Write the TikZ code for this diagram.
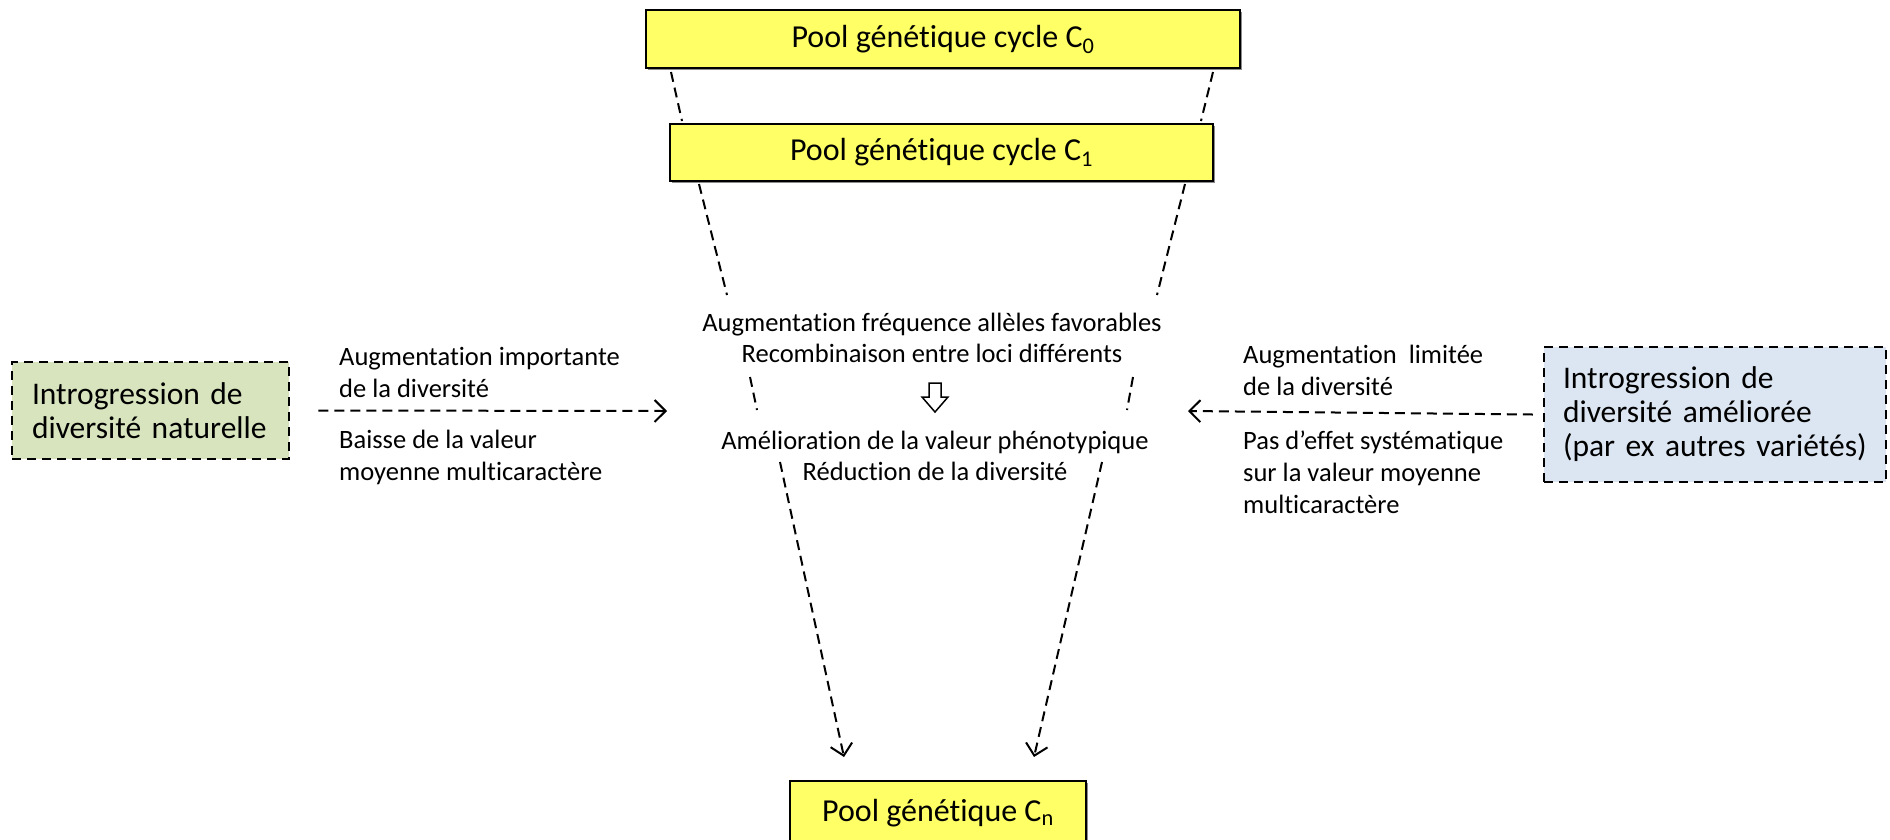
\documentclass[tikz,border=0pt]{standalone}
\usepackage{fontspec}
\setmainfont{Carlito}[RawFeature=-liga]
\usetikzlibrary{arrows.meta,shadows}
\definecolor{boxyellow}{RGB}{255,255,102}
\definecolor{boxgreen}{RGB}{215,228,189}
\definecolor{boxblue}{RGB}{220,230,242}
\begin{document}
\begin{tikzpicture}[x=1pt,y=-1pt,
  pool/.style={draw=black,line width=2pt,fill=boxyellow,inner sep=0pt,
    font=\fontsize{32}{34}\selectfont,
    drop shadow={shadow xshift=2pt,shadow yshift=-2pt,fill=black!45,opacity=1}},
  intro/.style={draw=black,line width=2.5pt,dash pattern=on 9pt off 6pt,
    inner ysep=0pt,align=left,font=\fontsize{31.5}{34}\selectfont},
  small/.style={font=\fontsize{26.5}{32}\selectfont,inner sep=0pt,align=left,anchor=west},
  ctext/.style={font=\fontsize{26.5}{31.5}\selectfont,inner sep=0pt,align=center},
  funnel/.style={line width=2pt,dash pattern=on 10pt off 6pt},
  darrow/.style={funnel,-{Straight Barb[length=11pt,width=22pt,line width=2pt]}}]
\useasboundingbox (0,0) rectangle (1890,839);

% pool boxes
\node[pool,minimum width=594pt,minimum height=58pt] (c0) at (943,39) {Pool génétique cycle C\textsubscript{0}};
\node[pool,minimum width=543pt,minimum height=57pt] (c1) at (941.5,152.5) {Pool génétique cycle C\textsubscript{1}};
\node[pool,minimum width=296pt,minimum height=64pt] (cn) at (938,813) {Pool génétique C\textsubscript{n}};

% introgression boxes
\node[intro,fill=boxgreen,text width=237pt,inner xsep=20pt,minimum height=97pt] (lbox) at (150.5,410.5)
  {Introgression de\\diversité naturelle};
\node[intro,fill=boxblue,text width=304pt,inner xsep=19pt,minimum height=135pt] (rbox) at (1715,414.5)
  {Introgression de\\diversité améliorée\\(par ex autres variétés)};

% side texts
\node[small] (lt1) at (339,372) {Augmentation importante\\de la diversité};
\node[small] (lt2) at (339,457) {Baisse de la valeur\\moyenne multicaractère};
\node[small] (rt1) at (1243,370) {Augmentation~~limitée\\de la diversité};
\node[small] (rt2) at (1243,472) {Pas d’effet systématique\\sur la valeur moyenne\\multicaractère};

% center texts
\node[ctext] (ct1) at (932,338) {Augmentation fréquence allèles favorables\\Recombinaison entre loci différents};
\node[ctext] (ct2) at (935,456) {Amélioration de la valeur phénotypique\\Réduction de la diversité};

% funnel coordinates
\coordinate (a1) at (671,72);   \coordinate (a2) at (682,121);
\coordinate (b1) at (1213,72);  \coordinate (b2) at (1201,121);
\coordinate (d1) at (699,184);  \coordinate (d2) at (727,295);
\coordinate (e1) at (1185,184); \coordinate (e2) at (1157,295);
\coordinate (f1) at (750,377);  \coordinate (f2) at (757,410);
\coordinate (g1) at (1133,377); \coordinate (g2) at (1127,410);
\coordinate (h1) at (780,462);  \coordinate (h2) at (844,757);
\coordinate (k1) at (1102,462); \coordinate (k2) at (1034,757);
\coordinate (la) at (667,411);  \coordinate (ra) at (1188,411);

\draw[funnel] (a1) -- (a2);
\draw[funnel] (b1) -- (b2);
\draw[funnel] (d1) -- (d2);
\draw[funnel] (e1) -- (e2);
\draw[funnel] (f1) -- (f2);
\draw[funnel] (g1) -- (g2);
\draw[darrow] (h1) -- (h2);
\draw[darrow] (k1) -- (k2);

% side arrows
\draw[darrow] ([xshift=28pt]lbox.east) -- (la);
\draw[darrow] ([xshift=-10pt]rbox.west) -- (ra);

% hollow block arrow
\draw[line width=1.5pt,fill=white] (929,383) -- (941,383) -- (941,397) -- (948,397)
  -- (935,412) -- (922,397) -- (929,397) -- cycle;
\end{tikzpicture}
\end{document}
